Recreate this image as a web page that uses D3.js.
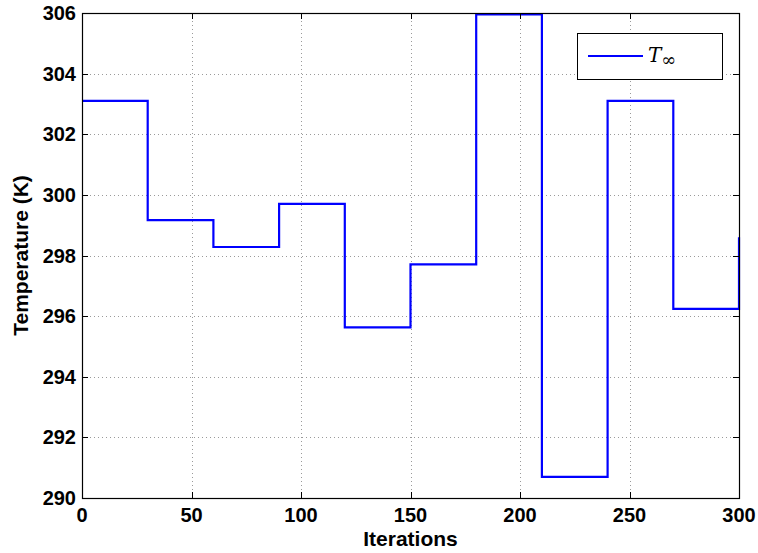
<!DOCTYPE html>
<html>
<head>
<meta charset="utf-8">
<script src="https://cdn.jsdelivr.net/npm/d3@7"></script>
<style>
  html, body { margin: 0; padding: 0; background: #fff; }
  svg { display: block; }
  .tick-label { font-family: "Liberation Sans", Arial, Helvetica, sans-serif; font-weight: bold; font-size: 20px; fill: #000; }
  .axis-title { font-family: "Liberation Sans", Arial, Helvetica, sans-serif; font-weight: bold; font-size: 21px; fill: #000; }
</style>
</head>
<body>
<script>
// Step changes of the ambient temperature T∞ every 30 iterations
const iterations = [0, 30, 60, 90, 120, 150, 180, 210, 240, 270, 300];
const temperature = [303.1, 299.17, 298.28, 299.7, 295.63, 297.71, 305.95, 290.7, 303.1, 296.24, 298.6];
const xTicks = [0, 50, 100, 150, 200, 250, 300];
const yTicks = [290, 292, 294, 296, 298, 300, 302, 304, 306];
const seriesLabel = "T";

const W = 758, H = 553;
const plot = { left: 82, right: 739, top: 13, bottom: 498 };

const svg = d3.select("body").append("svg").attr("width", W).attr("height", H);

const x = d3.scaleLinear().domain([0, 300]).range([plot.left, plot.right]);
const y = d3.scaleLinear().domain([290, 306]).range([plot.bottom, plot.top]);

// dotted grid
const grid = svg.append("g").attr("stroke", "#9a9a9a").attr("stroke-width", 1)
  .attr("stroke-dasharray", "1,3");
grid.selectAll(".gx").data(xTicks.slice(1, -1)).enter().append("line")
  .attr("x1", d => Math.round(x(d)) + 0.5).attr("x2", d => Math.round(x(d)) + 0.5)
  .attr("y1", plot.top).attr("y2", plot.bottom);
grid.selectAll(".gy").data(yTicks.slice(1, -1)).enter().append("line")
  .attr("y1", d => Math.round(y(d)) + 0.5).attr("y2", d => Math.round(y(d)) + 0.5)
  .attr("x1", plot.left).attr("x2", plot.right);

// step line
const line = d3.line().x(d => x(d[0])).y(d => y(d[1])).curve(d3.curveStepAfter);
svg.append("path")
  .datum(iterations.map((t, i) => [t, temperature[i]]))
  .attr("d", line)
  .attr("fill", "none")
  .attr("stroke", "#0000ff")
  .attr("stroke-width", 2.2)
  .attr("stroke-linejoin", "miter");

// inward ticks on all four sides
const tickLen = 6;
const ticks = svg.append("g").attr("stroke", "#000").attr("stroke-width", 1);
xTicks.forEach(d => {
  const px = Math.round(x(d)) + 0.5;
  ticks.append("line").attr("x1", px).attr("x2", px).attr("y1", plot.bottom).attr("y2", plot.bottom - tickLen);
  ticks.append("line").attr("x1", px).attr("x2", px).attr("y1", plot.top).attr("y2", plot.top + tickLen);
});
yTicks.forEach(d => {
  const py = Math.round(y(d)) + 0.5;
  ticks.append("line").attr("y1", py).attr("y2", py).attr("x1", plot.left).attr("x2", plot.left + tickLen);
  ticks.append("line").attr("y1", py).attr("y2", py).attr("x1", plot.right).attr("x2", plot.right - tickLen);
});

// axes box
svg.append("rect")
  .attr("x", plot.left + 0.5).attr("y", plot.top + 0.5)
  .attr("width", plot.right - plot.left).attr("height", plot.bottom - plot.top)
  .attr("fill", "none").attr("stroke", "#000").attr("stroke-width", 1.2);

// tick labels
svg.append("g").selectAll("text").data(xTicks).enter().append("text")
  .attr("class", "tick-label")
  .attr("x", d => x(d)).attr("y", 522)
  .attr("text-anchor", "middle")
  .text(d => d);
svg.append("g").selectAll("text").data(yTicks).enter().append("text")
  .attr("class", "tick-label")
  .attr("x", 76).attr("y", d => y(d) + 7)
  .attr("text-anchor", "end")
  .text(d => d);

// axis titles
svg.append("text").attr("class", "axis-title")
  .attr("x", (plot.left + plot.right) / 2).attr("y", 546)
  .attr("text-anchor", "middle").text("Iterations");
svg.append("text").attr("class", "axis-title")
  .attr("transform", `translate(28,${(plot.top + plot.bottom) / 2}) rotate(-90)`)
  .attr("text-anchor", "middle").text("Temperature (K)");

// legend
const lg = svg.append("g");
lg.append("rect").attr("x", 577.5).attr("y", 33.5).attr("width", 145).attr("height", 46)
  .attr("fill", "#fff").attr("stroke", "#000").attr("stroke-width", 1);
lg.append("line").attr("x1", 588).attr("x2", 643).attr("y1", 56).attr("y2", 56)
  .attr("stroke", "#0000ff").attr("stroke-width", 2.2);
const lt = lg.append("text").attr("x", 648).attr("y", 62)
  .attr("font-family", "'DejaVu Serif', 'Liberation Serif', serif")
  .attr("font-style", "italic").attr("font-size", 20).attr("fill", "#000");
lt.append("tspan").text(seriesLabel);
lt.append("tspan").attr("dy", 4).attr("font-size", 18).attr("font-style", "normal").text("∞");
</script>
</body>
</html>
